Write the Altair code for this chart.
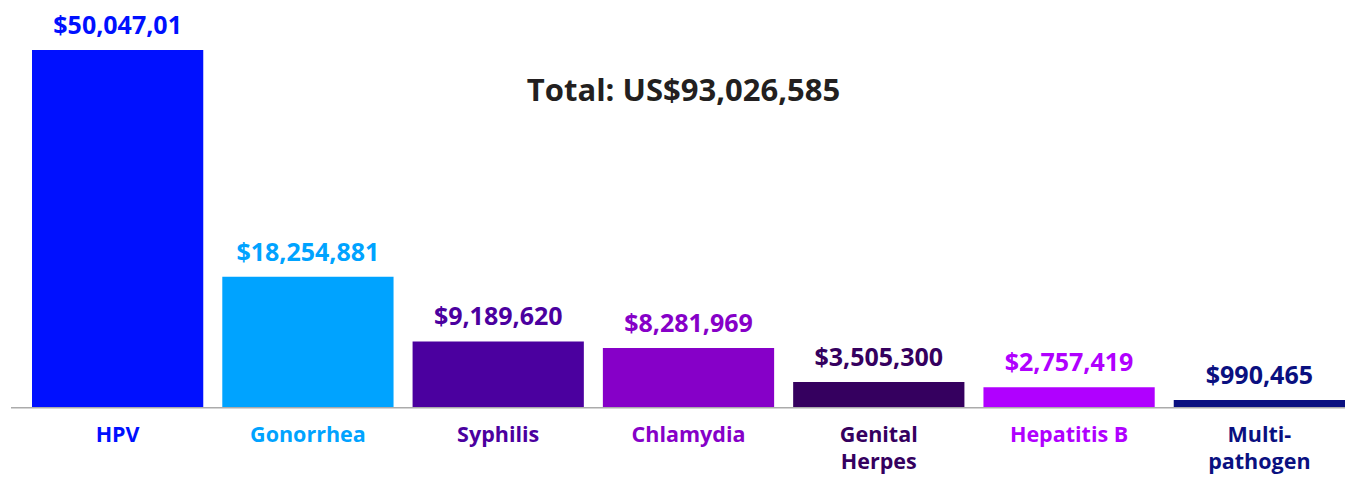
import altair as alt
import pandas as pd

categories = ["HPV", "Gonorrhea", "Syphilis", "Chlamydia", "Genital Herpes", "Hepatitis B", "Multi-pathogen"]
axis_labels = ["HPV", "Gonorrhea", "Syphilis", "Chlamydia", "Genital\nHerpes", "Hepatitis B", "Multi-\npathogen"]
values = [50047010, 18254881, 9189620, 8281969, 3505300, 2757419, 990465]
value_labels = ["$50,047,01", "$18,254,881", "$9,189,620", "$8,281,969", "$3,505,300", "$2,757,419", "$990,465"]
colors = ["#0010FF", "#00A3FF", "#4B009F", "#8600C8", "#35005F", "#B000FF", "#0A1080"]
total_text = "Total: US$93,026,585"

df = pd.DataFrame({
    "cat": categories,
    "axis_label": axis_labels,
    "value": values,
    "label": value_labels,
})

FONT = "Open Sans"
W, H = 1313, 357

x = alt.X("cat:N", sort=categories, axis=None,
          scale=alt.Scale(paddingInner=0.1, paddingOuter=0))
y = alt.Y("value:Q", axis=None, scale=alt.Scale(domain=[0, 50047010], nice=False, zero=True))
color = alt.Color("cat:N", scale=alt.Scale(domain=categories, range=colors), legend=None)

base = alt.Chart(df)

bars = base.mark_bar().encode(x=x, y=y, color=color)

vlabels = base.mark_text(font=FONT, fontWeight="bold", fontSize=25, baseline="alphabetic", dy=-16).encode(
    x=x, y=y, text="label:N", color=color)

clabels = base.mark_text(font=FONT, fontWeight="bold", fontSize=21.5, baseline="alphabetic",
                         lineBreak="\n", lineHeight=26.5).encode(
    x=x, y=alt.value(H + 35), text="axis_label:N", color=color)

baseline = base.transform_filter(alt.datum.cat == "HPV").mark_rule(color="#ababab", strokeWidth=1.6).encode(
    y=alt.value(H + 0.8), x=alt.value(-21), x2=alt.value(W))

title = base.transform_filter(alt.datum.cat == "HPV").mark_text(
    font=FONT, fontWeight="bold", fontSize=31, color="#231f20", baseline="alphabetic", align="center",
    text=total_text).encode(
    x=alt.value(651.5), y=alt.value(51))

chart = alt.layer(bars, baseline, vlabels, clabels, title).properties(
    width=W, height=H,
    autosize=alt.AutoSizeParams(type="none"),
    padding={"left": 24, "top": 42, "right": 0, "bottom": 68},
).configure_view(stroke=None)

chart.save("out.html", embed_options={"renderer": "svg", "actions": False})
